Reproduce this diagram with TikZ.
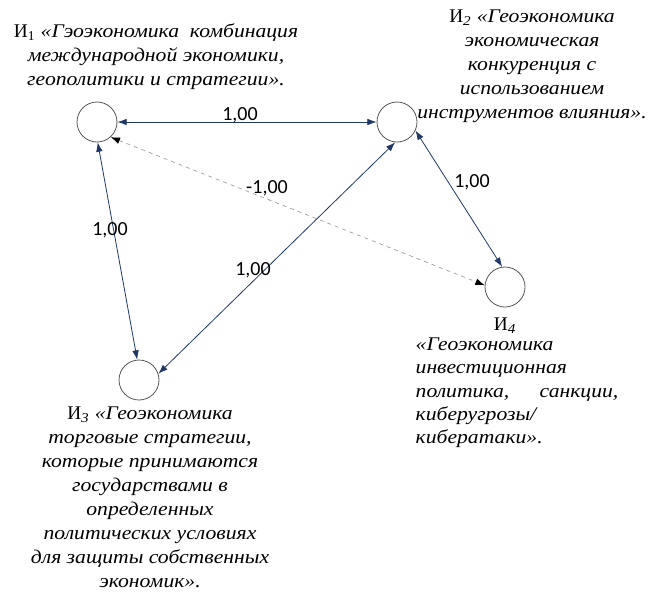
\documentclass[tikz,border=0pt]{standalone}
\usepackage{fontspec}
\setmainfont{Liberation Serif}[ItalicFont={Liberation Serif Italic},ItalicFeatures={FakeStretch=1.12}]
\newfontfamily\numfont{Carlito}
\usetikzlibrary{arrows.meta}
\definecolor{edgeblue}{RGB}{32,56,100}
\definecolor{dashgray}{RGB}{155,155,155}
\definecolor{ringgray}{RGB}{85,85,85}

\begin{document}
\begin{tikzpicture}[x=0.75pt,y=-0.75pt,
  state/.style={circle,draw=ringgray,line width=0.6pt,minimum size=30pt,inner sep=0pt},
  link/.style={edgeblue,line width=0.6pt,
    {Latex[length=7pt,width=5pt]}-{Latex[length=7pt,width=5pt]}},
  neglink/.style={dashgray,dashed,line width=0.5pt,
    {Latex[length=7pt,width=5pt,color=black]}-{Latex[length=7pt,width=5pt,color=black]}},
  weight/.style={font=\numfont\fontsize{15}{18}\selectfont,inner sep=1pt},
  caption/.style={align=center,inner sep=0pt,font=\fontsize{14.5}{18}\selectfont\itshape}]
  \useasboundingbox (0,0) rectangle (652,600);
  % indicators
  \node[state] (i1) at (97,122) {};
  \node[state] (i2) at (397,122) {};
  \node[state] (i3) at (139,380) {};
  \node[state] (i4) at (505,287) {};
  % descriptions
  \node[caption] (t1) at (156,57)
    {{\upshape И\textsubscript{1}} «Гэоэкономика\ \ комбинация\\
     международной экономики,\\ геополитики и стратегии».};
  \node[caption] (t2) at (532,66)
    {{\upshape И}\textsubscript{2} «Геоэкономика\\ экономическая\\ конкуренция с\\
     использованием\\ инструментов влияния».};
  \node[caption] (t3) at (150,497)
    {{\upshape И}\textsubscript{3} «Геоэкономика\\ торговые стратегии,\\
     которые принимаются\\ государствами в\\ определенных\\
     политических условиях\\ для защиты собственных\\ экономик».};
  \node[caption] (t4head) at (505,326) {{\upshape И}\textsubscript{4}};
  \node[caption,align=left,text width=152pt,font=\fontsize{14.5}{17.5}\selectfont\itshape]
    (t4) at (517,393)
    {«Геоэкономика\\ инвестиционная\\ политика,\hfill санкции,\\
     киберугрозы/\\ кибератаки».};
  % links
  \draw[link] (i1) -- (i2);
  \draw[link] (i1.-88) -- (i3.95);
  \draw[link] (i3.18) -- (i2.-95);
  \draw[link] (i2.-25) -- (i4.98);
  \draw[neglink] (i1.-48) -- (i4.175);
  % weights
  \node[weight] (w12) at (240,115) {1,00};
  \node[weight] (w13) at (110,230) {1,00};
  \node[weight] (w23) at (253,270) {1,00};
  \node[weight] (w24) at (472,182) {1,00};
  \node[weight] (w14) at (267,188) {-1,00};
\end{tikzpicture}
\end{document}
